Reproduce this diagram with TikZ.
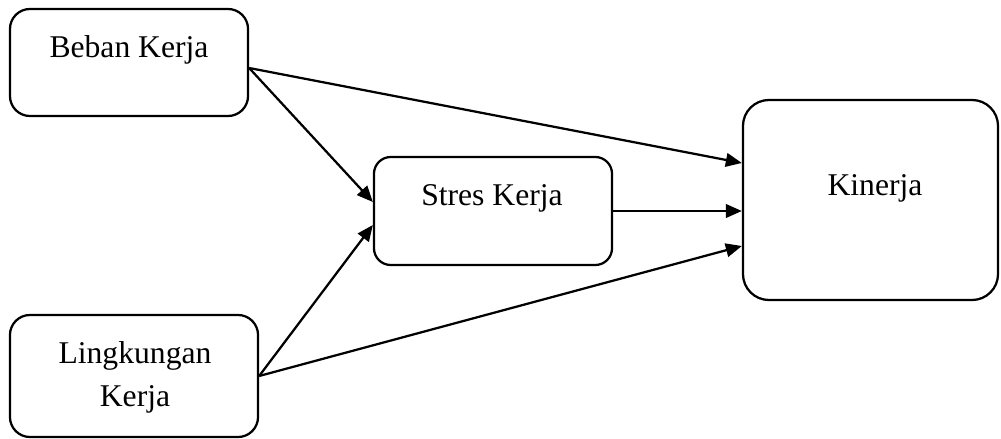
\documentclass[tikz,border=0pt]{standalone}
\usepackage{fontspec}
\setmainfont{Liberation Serif}
\usetikzlibrary{arrows.meta}
\begin{document}
\begin{tikzpicture}[x=0.025cm,y=-0.025cm,
  box/.style={draw,line width=1.6pt,inner sep=0pt},
  lbl/.style={font=\fontsize{22.5}{30.6}\selectfont,anchor=base,inner sep=0pt,align=center},
  arr/.style={line width=1.6pt,-{Triangle[length=0.4cm,width=0.34cm]}}]
\useasboundingbox (0,0) rectangle (1001,439);
% boxes
\node[box,rounded corners=0.5cm,minimum width=5.95cm,minimum height=2.675cm] (b) at (129,62.5) {};
\node[box,rounded corners=0.5cm,minimum width=6.2cm,minimum height=3.05cm] (l) at (134,376) {};
\node[box,rounded corners=0.42cm,minimum width=5.95cm,minimum height=2.7cm] (s) at (493,211) {};
\node[box,rounded corners=0.65cm,minimum width=6.375cm,minimum height=5cm] (k) at (870.5,200) {};
% texts
\node[lbl] (bt) at (129,58) {Beban Kerja};
\node[lbl] (lt1) at (135,363) {Lingkungan};
\node[lbl] (lt2) at (135,406) {Kerja};
\node[lbl] (st) at (492,206) {Stres Kerja};
\node[lbl] (kt) at (875,196) {Kinerja};
% connectors
\coordinate (bo) at (b.east |- 0,68);
\draw[arr] (bo) -- (k.west |- 0,163);
\draw[arr] (bo) -- (s.west |- 0,202);
\draw[arr] (s.east) -- (k.west |- s.east);
\draw[arr] (l.east) -- (s.west |- 0,225);
\draw[arr] (l.east) -- (k.west |- 0,246);
\end{tikzpicture}
\end{document}
